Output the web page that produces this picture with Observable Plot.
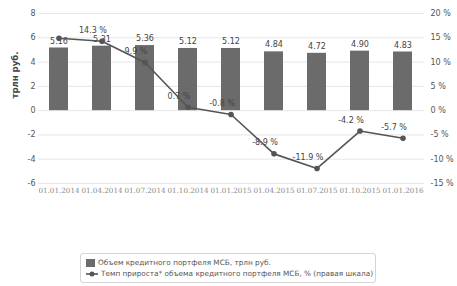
<!DOCTYPE html>
<html><head><meta charset="utf-8">
<script src="https://cdn.jsdelivr.net/npm/d3@7"></script>
<script src="https://cdn.jsdelivr.net/npm/@observablehq/plot@0.6"></script>
<style>
body{margin:0;background:#fff;font-family:"DejaVu Sans",sans-serif;}
#legend{position:absolute;left:80px;top:253px;width:296px;height:30px;border:1px solid #d4d4d4;border-radius:3px;box-sizing:border-box;font-size:7.3px;color:#555;padding:3px 0 0 5px;line-height:11px;}
#legend div{display:flex;align-items:center;white-space:nowrap;}
#legend svg{margin-right:3px;flex-shrink:0;}
</style></head><body>
<div id="chart"></div>
<div id="legend"></div>
<script>
const dates = ["01.01.2014","01.04.2014","01.07.2014","01.10.2014","01.01.2015","01.04.2015","01.07.2015","01.10.2015","01.01.2016"];
const volume = [5.16, 5.31, 5.36, 5.12, 5.12, 4.84, 4.72, 4.90, 4.83];
const growth = [14.9, 14.3, 9.9, 0.7, -0.8, -8.9, -11.9, -4.2, -5.7];
const leftTicks = [-6, -4, -2, 0, 2, 4, 6, 8];
const legendLabels = ["Объем кредитного портфеля МСБ, трлн руб.", "Темп прироста* объема кредитного портфеля МСБ, % (правая шкала)"];

const k = 8 / 20; // right scale (%) -> left scale (trln)
const rows = dates.map((d, i) => ({date: d, vol: volume[i], pct: growth[i], pctL: growth[i] * k, i}));

const chart = Plot.plot({
  width: 457, height: 200,
  marginLeft: 38, marginRight: 33, marginTop: 13, marginBottom: 17,
  style: {fontFamily: "DejaVu Sans, sans-serif", fontSize: "8px", color: "#555", background: "#fff"},
  x: {type: "band", domain: dates, paddingInner: 0.55, paddingOuter: 0.26, axis: null},
  y: {domain: [-6, 8], axis: null},
  marks: [
    Plot.gridY(leftTicks, {stroke: "#e6e6e6", strokeOpacity: 1}),
    Plot.axisY(leftTicks, {anchor: "left", tickSize: 0, tickPadding: 3, label: null, fill: "#555", fontSize: 8, tickFormat: d => String(d)}),
    Plot.axisY(leftTicks, {anchor: "right", tickSize: 0, tickPadding: 6, label: null, fill: "#555", fontSize: 8, tickFormat: d => Math.round(d / k) + " %"}),
    Plot.axisX({anchor: "bottom", tickSize: 0, tickPadding: 4, label: null, fill: "#888", fontSize: 7.2, fontFamily: "DejaVu Serif, serif"}),
    Plot.text(["трлн руб."], {frameAnchor: "left", dx: -23, rotate: -90, fontSize: 8.5, fontWeight: "bold", fill: "#444"}),
    Plot.barY(rows, {x: "date", y: "vol", fill: "#6b6b6b"}),
    Plot.text(rows, {x: "date", y: "vol", text: d => d.vol.toFixed(2), dy: -7, fill: "#444", fontSize: 8}),
    Plot.line(rows, {x: "date", y: "pctL", stroke: "#555", strokeWidth: 1.6}),
    Plot.dot(rows, {x: "date", y: "pctL", r: 2.8, fill: "#555"}),
    Plot.text(rows.filter(d => d.i > 0), {x: "date", y: "pctL", text: d => d.pct.toFixed(1) + " %", dx: -9, dy: -11, fill: "#444", fontSize: 8})
  ]
});
document.getElementById("chart").appendChild(chart);

const lg = document.getElementById("legend");
lg.innerHTML =
  `<div><svg width="9" height="8"><rect x="0" y="0" width="9" height="8" fill="#6b6b6b"/></svg>${legendLabels[0]}</div>` +
  `<div><svg width="12" height="8"><line x1="0" y1="4" x2="12" y2="4" stroke="#555" stroke-width="1.6"/><circle cx="6" cy="4" r="2.5" fill="#555"/></svg>${legendLabels[1]}</div>`;
</script>
</body></html>
